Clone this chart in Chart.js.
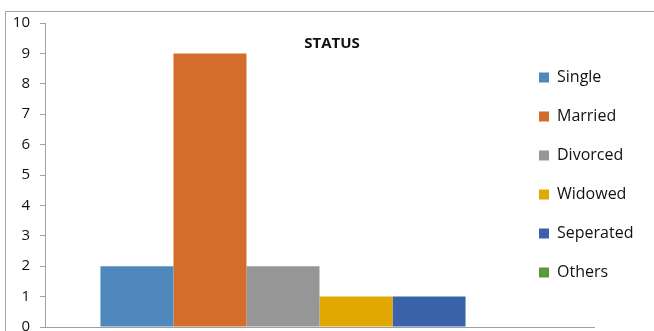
<!DOCTYPE html>
<html>
<head>
<meta charset="utf-8">
<title>STATUS</title>
<script src="https://cdn.jsdelivr.net/npm/chart.js@4.4.0/dist/chart.umd.min.js"></script>
<style>
    body { margin: 0; background: #fff; }
    #marco { position: absolute; left: 5px; top: 11px; width: 700px; height: 400px; border: 1px solid #a6a6a6; }
    #lienzo { position: absolute; left: 0; top: 0; }
</style>
</head>
<body>
<div id="marco"></div>
<canvas id="lienzo" width="654" height="331"></canvas>
<script>
// Datos
const titulo = "STATUS";
const categorias = ["STATUS"];
const series = ["Single", "Married", "Divorced", "Widowed", "Seperated", "Others"];
const valores = [2, 9, 2, 1, 1, 0];
const colores = ["#4f88bd", "#d46d2c", "#969696", "#e0a800", "#3a62aa", "#5e9a3c"];
const ejeY = { min: 0, max: 10, paso: 1 };

const gris = "#a0a0a0";
const fuente = "'Open Sans', 'Liberation Sans', sans-serif";

// El titulo va encima del area del grafico, como en Excel
const tituloPlugin = {
    id: "tituloEncima",
    afterDraw(chart) {
        const ctx = chart.ctx;
        ctx.save();
        ctx.font = "bold 15px " + fuente;
        ctx.fillStyle = "#111";
        ctx.textAlign = "center";
        ctx.textBaseline = "middle";
        ctx.fillText(titulo, 332, 44);
        ctx.restore();
    }
};

// La leyenda se monta sobre el area del grafico (se corre a la izquierda)
const leyendaPlugin = {
    id: "moverLeyenda",
    afterLayout(chart) {
        const ley = chart.legend;
        ley.left = 539 - ley.options.labels.padding;
        ley.right = 654;
        ley.width = ley.right - ley.left;
    }
};

function crearGrafica() {
    const ctx = document.getElementById("lienzo").getContext("2d");
    new Chart(ctx, {
        type: "bar",
        data: {
            labels: categorias,
            datasets: series.map((s, i) => ({
                label: s,
                data: [valores[i]],
                backgroundColor: colores[i],
                borderWidth: 0,
                categoryPercentage: 0.798,
                barPercentage: 1
            }))
        },
        options: {
            responsive: false,
            animation: false,
            layout: { padding: { left: 0, top: 23, right: 0, bottom: 4 } },
            plugins: {
                legend: {
                    position: "right",
                    maxWidth: 60,
                    labels: {
                        boxWidth: 10,
                        boxHeight: 10,
                        padding: 23,
                        color: "#111",
                        font: { family: fuente, size: 16 }
                    }
                },
                tooltip: { enabled: false },
                title: { display: false }
            },
            scales: {
                x: {
                    ticks: { display: false },
                    grid: { display: false },
                    border: { display: true, color: gris, width: 1 },
                    afterFit: (eje) => { eje.height = 0; }
                },
                y: {
                    min: ejeY.min,
                    max: ejeY.max,
                    ticks: {
                        stepSize: ejeY.paso,
                        padding: 10,
                        color: "#111",
                        font: { family: fuente, size: 15 }
                    },
                    grid: { drawOnChartArea: false, drawTicks: true, tickLength: 5, color: gris },
                    border: { display: true, color: gris, width: 1 },
                    afterFit: (eje) => {
                        eje.width = 45;
                        eje.paddingTop = 0;
                        eje.paddingBottom = 0;
                    }
                }
            }
        },
        plugins: [tituloPlugin, leyendaPlugin]
    });
}

crearGrafica();
</script>
</body>
</html>
